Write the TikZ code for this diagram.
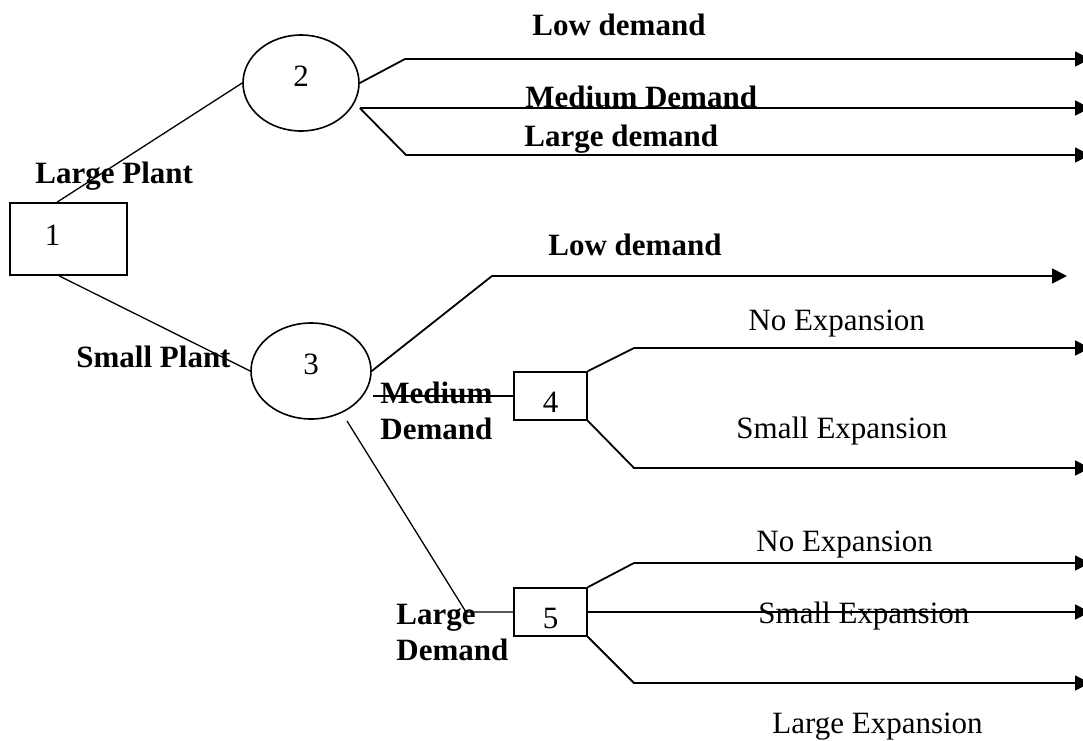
\documentclass[tikz,border=0pt]{standalone}
\usepackage{fontspec}
\setmainfont{Liberation Serif}
\usetikzlibrary{arrows.meta,calc,positioning,shapes.geometric}
\newcommand{\fz}{\fontsize{15.5}{18}\selectfont}
\tikzset{
  dbox/.style={draw, line width=0.8pt, rectangle, inner sep=2pt, font=\fz},
  cnode/.style={draw, line width=0.8pt, ellipse, inner sep=0pt, text depth=7pt, font=\fz},
  arr/.style={line width=0.9pt, -{Triangle[length=7.5pt,width=7.5pt]}},
  link/.style={line width=0.65pt},
  lbl/.style={anchor=base west, inner sep=0pt, font=\fz\bfseries, align=left},
  olbl/.style={anchor=base west, inner sep=0pt, font=\fz}
}

\begin{document}
\begin{tikzpicture}[x=0.5pt,y=-0.5pt]
  \useasboundingbox (0,0) rectangle (1083,740);
  % Decision node 1 and chance nodes 2, 3
  \node[dbox, minimum width=58.5pt, minimum height=36pt, text width=23.5pt, align=left, inner xsep=17.5pt, text depth=4pt] (n1) at (68.5,239) {1};
  \node[cnode, minimum width=58pt, minimum height=48pt] (n2) at (301,83) {2};
  \node[cnode, minimum width=60pt, minimum height=48pt] (n3) at (311,371) {3};
  % Decision nodes 4, 5
  \node[dbox, minimum width=36.5pt, minimum height=24pt, text height=16.5pt] (n4) at (550.5,396) {4};
  \node[dbox, minimum width=36.5pt, minimum height=24pt, text height=16.5pt] (n5) at (550.5,612) {5};

  % Plant size
  \draw[link] ([xshift=-5.75pt]n1.north) -- (n2.west);
  \draw[link] ([xshift=-4.75pt]n1.south) -- (n3.west);
  \node[lbl] (lp) at (35,183) {Large Plant};
  \node[lbl] (sp) at (76,367) {Small Plant};

  % Demand after large plant
  \coordinate (s2b) at ([yshift=-12.5pt]n2.east);
  \coordinate (b2a) at (405,59);  \coordinate (t2a) at (1090,59);
  \coordinate (t2b) at (1090,108);
  \coordinate (b2c) at (406,155); \coordinate (t2c) at (1090,155);
  \draw[arr] (n2.east) -- (b2a) -- (t2a);
  \draw[arr] (s2b) -- (t2b);
  \draw[arr] (s2b) -- (b2c) -- (t2c);
  \node[lbl] (ld2) at (532,35) {Low demand};
  \node[lbl] (md2) at (525,107) {Medium Demand};
  \node[lbl] (gd2) at (524,146) {Large demand};

  % Demand after small plant
  \coordinate (s3b) at ([shift={(0.5pt,-12.5pt)}]n3.east);
  \coordinate (s3c) at ([shift={(18pt,-25pt)}]n3.center);
  \coordinate (b3a) at (492,276); \coordinate (t3a) at (1067,276);
  \coordinate (b3c) at (466,612);
  \draw[arr] (n3.east) -- (b3a) -- (t3a);
  \draw[link] (s3b) -- (n4.west);
  \draw[link] (s3c) -- (b3c) -- (n5.west);
  \node[lbl] (ld3) at (548,255) {Low demand};
  \node[lbl] (md3) at (380,439) {Medium\\Demand};
  \node[lbl] (gd3) at (396,660) {Large\\Demand};

  % Expansion after medium demand
  \coordinate (b4a) at (634,348); \coordinate (t4a) at (1090,348);
  \coordinate (b4b) at (634,468); \coordinate (t4b) at (1090,468);
  \draw[arr] (n4.north east) -- (b4a) -- (t4a);
  \draw[arr] (n4.south east) -- (b4b) -- (t4b);
  \node[olbl] (ne4) at (748,330) {No Expansion};
  \node[olbl] (se4) at (736,438) {Small Expansion};

  % Expansion after large demand
  \coordinate (b5a) at (634,563); \coordinate (t5a) at (1090,563);
  \coordinate (t5b) at (1090,612);
  \coordinate (b5c) at (634,683); \coordinate (t5c) at (1090,683);
  \draw[arr] (n5.north east) -- (b5a) -- (t5a);
  \draw[arr] (n5.east) -- (t5b);
  \draw[arr] (n5.south east) -- (b5c) -- (t5c);
  \node[olbl] (ne5) at (756,551) {No Expansion};
  \node[olbl] (se5) at (758,623) {Small Expansion};
  \node[olbl] (le5) at (772,733) {Large Expansion};
\end{tikzpicture}
\end{document}
